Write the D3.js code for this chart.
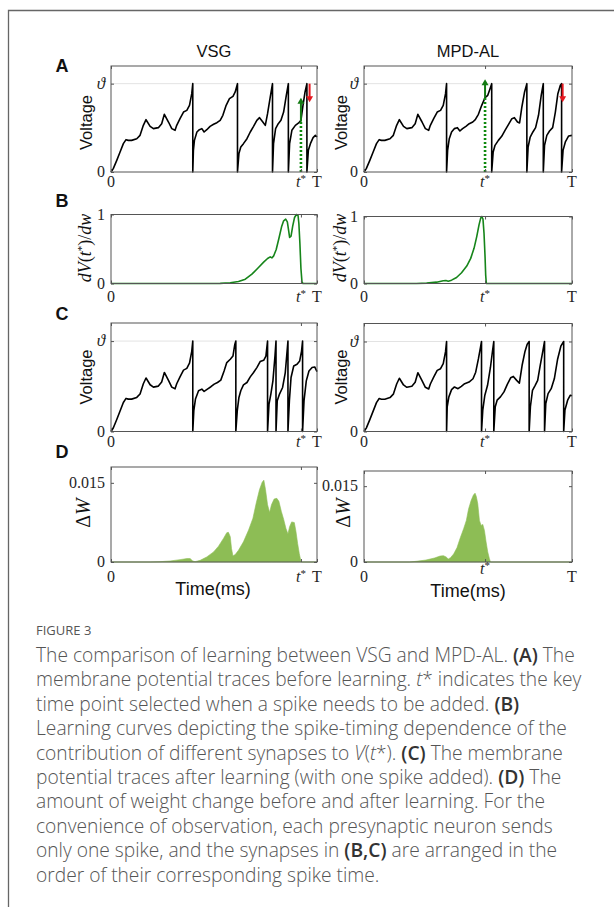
<!DOCTYPE html>
<html><head><meta charset="utf-8">
<script src="https://cdn.jsdelivr.net/npm/d3@7"></script>
<style>body{margin:0;background:#fff}svg{display:block}</style>
</head><body>
<svg id="fig" width="614" height="907"></svg>
<script>
// ---------------- DATA ----------------
const columnTitles = ["VSG", "MPD-AL"];
const panelLetters = ["A", "B", "C", "D"];
const tStar = [0.922, 0.582];              // key time point t* (fraction of T)
const xTickValues = [0, "tstar", 1];
const xTickLabels = ["0", "t*", "T"];
const voltageTickValues = [0, 1];
const voltageTickLabels = ["0", "\u03D1"];
const gradTickValues = [0, 1];
const gradTickLabels = ["0", "1"];
const dwTickValues = [0, 0.015];
const dwTickLabels = ["0", "0.015"];

// shared first segment of membrane potential (identical input before first spike)
const firstSegment = [[0,0],[.011,.038],[.028,.132],[.044,.226],[.060,.321],[.073,.366],[.084,.358],[.100,.358],[.125,.377],[.141,.415],[.157,.528],[.170,.592],[.190,.517],[.206,.491],[.230,.502],[.246,.547],[.259,.653],[.279,.566],[.295,.491],[.311,.472],[.319,.528],[.335,.604],[.352,.679],[.368,.698],[.381,.755],[.392,.887],[.397,1],[.397,0]];

// A: before learning
const vsgBefore = firstSegment.concat([[.400,.245],[.405,.358],[.417,.453],[.429,.479],[.441,.491],[.452,.453],[.465,.479],[.481,.517],[.498,.540],[.514,.558],[.530,.585],[.543,.642],[.559,.755],[.575,.830],[.592,.857],[.603,.906],[.614,1],[.614,0],
 [.621,.208],[.630,.283],[.643,.321],[.660,.377],[.676,.453],[.692,.517],[.708,.585],[.721,.615],[.737,.566],[.749,.528],[.760,.660],[.773,.849],[.784,1],[.784,0],
 [.789,.321],[.799,.491],[.812,.547],[.825,.585],[.838,.679],[.851,.868],[.861,1],[.861,0],
 [.867,.321],[.878,.472],[.895,.528],[.911,.555],[.922,.585],[.932,.755],[.942,.906],[.951,1],[.951,0],
 [.958,.245],[.968,.321],[.981,.389],[.992,.415],[1,.396]]);
const mpdBefore = firstSegment.concat([[.402,.245],[.410,.377],[.421,.453],[.434,.491],[.449,.502],[.461,.464],[.474,.491],[.490,.517],[.506,.547],[.523,.566],[.535,.592],[.550,.653],[.566,.755],[.582,.842],[.595,.868],[.606,.943],[.614,1],[.614,0],
 [.621,.226],[.630,.302],[.646,.358],[.662,.404],[.678,.472],[.695,.540],[.711,.604],[.723,.615],[.738,.566],[.748,.555],[.759,.736],[.772,.906],[.783,1],[.783,0],
 [.789,.283],[.799,.396],[.812,.453],[.825,.502],[.839,.642],[.852,.868],[.862,1],[.862,0],
 [.868,.302],[.879,.415],[.892,.464],[.907,.502],[.920,.679],[.932,.887],[.944,.981],[.950,1],[.950,0],
 [.957,.245],[.968,.340],[.984,.408],[1,.415]]);

// A: arrows  [t, vFrom, vTo]
const addArrow = [[.922, .57, .84], [.582, .842, 1.05]];
const removeArrow = [[.964, 1.0, .79], [.955, 1.0, .79]];

// B: dV(t*)/dw
const vsgGrad = [[0,0],[.481,0],[.530,.002],[.579,.010],[.619,.029],[.652,.063],[.684,.135],[.716,.232],[.741,.309],[.760,.362],[.773,.386],[.781,.372],[.789,.396],[.802,.493],[.815,.652],[.828,.821],[.838,.908],[.848,.932],[.856,.894],[.862,.773],[.867,.667],[.874,.686],[.882,.831],[.891,.957],[.900,1],[.908,.986],[.912,.870],[.917,.580],[.922,.217],[.927,.024],[.932,0],[1,0]];
const mpdGrad = [[0,0],[.252,0],[.301,.005],[.349,.020],[.381,.040],[.394,.045],[.405,.035],[.421,.050],[.445,.090],[.469,.160],[.494,.260],[.513,.375],[.529,.525],[.542,.700],[.553,.875],[.561,.975],[.566,1],[.572,.960],[.577,.750],[.582,.400],[.585,.125],[.588,0],[1,0]];

// C: after learning
const vsgAfter = firstSegment.concat([[.402,.231],[.410,.359],[.425,.451],[.441,.469],[.452,.443],[.468,.469],[.485,.495],[.501,.524],[.517,.542],[.533,.568],[.549,.670],[.562,.762],[.579,.799],[.592,.835],[.601,.963],[.606,1],[.606,0],
 [.613,.231],[.621,.377],[.630,.451],[.643,.516],[.660,.542],[.676,.604],[.692,.652],[.708,.707],[.724,.773],[.741,.788],[.752,.835],[.760,1],[.760,0],
 [.767,.304],[.776,.414],[.786,.560],[.796,.835],[.801,1],[.801,0],
 [.807,.341],[.818,.414],[.833,.487],[.846,.652],[.859,1],[.859,0],
 [.866,.341],[.874,.597],[.887,.725],[.903,.744],[.916,.780],[.925,.890],[.930,1],[.930,0],
 [.937,.341],[.948,.560],[.961,.670],[.976,.707],[.989,.714],[1,.663]]);
const mpdAfter = firstSegment.concat([[.400,.275],[.408,.385],[.421,.465],[.435,.495],[.452,.476],[.468,.502],[.484,.531],[.505,.549],[.524,.586],[.537,.659],[.550,.806],[.560,.934],[.565,1],[.565,0],
 [.571,.238],[.581,.403],[.594,.513],[.608,.714],[.618,.897],[.624,1],[.624,0],
 [.631,.275],[.640,.348],[.656,.385],[.673,.440],[.689,.524],[.705,.597],[.718,.612],[.734,.568],[.747,.538],[.760,.733],[.774,.890],[.785,.971],[.794,1],[.794,0],
 [.800,.275],[.810,.458],[.823,.513],[.835,.568],[.847,.733],[.860,.897],[.868,1],[.868,0],
 [.874,.311],[.885,.421],[.900,.476],[.915,.586],[.931,.806],[.947,.952],[.960,1],[.960,0],
 [.966,.238],[.979,.348],[.992,.403],[1,.396]]);

// D: weight change (x 0.001)
const vsgDW = [[0,0],[.190,0],[.238,.064],[.287,.19],[.335,.45],[.368,.64],[.384,.64],[.397,.19],[.408,.06],[.433,.32],[.465,.96],[.498,1.91],[.522,3.0],[.546,4.47],[.562,5.55],[.570,5.62],[.579,4.79],[.585,2.55],[.592,1.15],[.603,1.40],[.619,2.23],[.643,3.83],[.668,6.06],[.689,8.30],[.705,11.17],[.721,13.72],[.734,15.13],[.742,15.51],[.750,13.72],[.760,10.85],[.770,9.38],[.779,10.85],[.792,11.94],[.805,12.06],[.815,11.49],[.827,9.57],[.838,8.11],[.849,6.38],[.859,5.30],[.867,6.70],[.877,7.60],[.890,7.47],[.898,5.74],[.906,3.51],[.914,1.60],[.921,.32],[.924,0],[1,0]];
const mpdDW = [[0,0],[.218,0],[.250,.13],[.298,.39],[.339,.79],[.366,1.18],[.382,1.25],[.395,.99],[.405,.59],[.416,.86],[.431,1.58],[.447,2.83],[.463,4.80],[.479,6.58],[.492,8.22],[.503,10.53],[.515,12.17],[.526,13.23],[.534,13.62],[.540,12.96],[.547,11.51],[.555,8.22],[.563,7.24],[.571,7.44],[.579,6.25],[.587,3.95],[.595,1.97],[.603,.66],[.608,0],[1,0]];

// caption
const figureLabel = "FIGURE 3";
const captionLines = [
 [["The comparison of learning between VSG and MPD-AL. ","n"],["(A)","b"],[" The","n"]],
 [["membrane potential traces before learning. ","n"],["t","i"],["*","n"],[" indicates the key","n"]],
 [["time point selected when a spike needs to be added. ","n"],["(B)","b"]],
 [["Learning curves depicting the spike-timing dependence of the","n"]],
 [["contribution of different synapses to ","n"],["V","i"],["(","n"],["t","i"],["*). ","n"],["(C)","b"],[" The membrane","n"]],
 [["potential traces after learning (with one spike added). ","n"],["(D)","b"],[" The","n"]],
 [["amount of weight change before and after learning. For the","n"]],
 [["convenience of observation, each presynaptic neuron sends","n"]],
 [["only one spike, and the synapses in ","n"],["(B,C)","b"],[" are arranged in the","n"]],
 [["order of their corresponding spike time.","n"]]
];

// ---------------- LAYOUT ----------------
const svg = d3.select("#fig");
const cols = [{x0:111, x1:317}, {x0:364, x1:572}];
const rows = [
 {key:"A", top:[66,66], bottom:172, ymax:1.2, yt:voltageTickValues, yl:voltageTickLabels, xBase:187, yLab:"Voltage", yLabY:122.5, thresh:true, letterY:71.5, data:[vsgBefore, mpdBefore], kind:"v"},
 {key:"B", top:[214.5,216.5], bottom:283.5, ymax:1, yt:gradTickValues, yl:gradTickLabels, xBase:302, yLab:"grad", yLabY:248, thresh:false, letterY:206.5, data:[vsgGrad, mpdGrad], kind:"g"},
 {key:"C", top:[323,323.5], bottom:431.5, ymax:1.2, yt:voltageTickValues, yl:voltageTickLabels, xBase:446.5, yLab:"Voltage", yLabY:377, thresh:true, letterY:320, data:[vsgAfter, mpdAfter], kind:"v"},
 {key:"D", top:[467,471], bottom:562, ymax:0.018, yt:dwTickValues, yl:dwTickLabels, xBase:581.5, yLab:"dw", yLabY:513, thresh:false, letterY:458, data:[vsgDW, mpdDW], kind:"a"}
];
const yLabX = [[92,347],[91,345.5],[92,347],[90,350]];
const serif = "'Liberation Serif','DejaVu Serif',serif";
const sans = "'Liberation Sans',Arial,sans-serif";
const axisColor = "#555";

// frame
svg.append("path").attr("d","M8.5,907 L8.5,10.5 L614,10.5").attr("fill","none").attr("stroke","#666").attr("stroke-width",1.3);

// titles
columnTitles.forEach((t,i)=>{
  svg.append("text").attr("x",(cols[i].x0+cols[i].x1)/2).attr("y",57.3).attr("text-anchor","middle")
    .attr("font-family",sans).attr("font-size",16.5).attr("fill","#111").text(t);
});

function tickLabel(g, x, y, label, anchor, dy) {
  const t = g.append("text").attr("x",x).attr("y",y+(dy||0)).attr("text-anchor",anchor)
     .attr("font-family",serif).attr("font-size",16).attr("fill","#262626");
  if (label === "t*") {
    t.append("tspan").attr("font-style","italic").text("t");
    t.append("tspan").attr("font-size",11).attr("dy",-5).text("*");
  } else if (label === "\u03D1") {
    t.attr("font-style","italic").attr("font-size",17).text(label);
  } else t.text(label);
  return t;
}

rows.forEach((r,ri)=>{
  svg.append("text").attr("x",55.5).attr("y",r.letterY).attr("font-family",sans).attr("font-weight","bold")
     .attr("font-size",18).attr("fill","#111").text(panelLetters[ri]);
  cols.forEach((c,ci)=>{
    const g = svg.append("g");
    const top = r.top[ci];
    const x = d3.scaleLinear().domain([0,1]).range([c.x0,c.x1]);
    const y = d3.scaleLinear().domain([0,r.ymax]).range([r.bottom, top]);
    const xt = xTickValues.map(v => v === "tstar" ? tStar[ci] : v);

    if (r.thresh) g.append("line").attr("x1",c.x0).attr("x2",c.x1).attr("y1",y(1)).attr("y2",y(1))
        .attr("stroke","#e3e3e3").attr("stroke-width",1);

    const pts = r.data[ci];
    if (r.kind === "a") {
      const area = d3.area().x(d=>x(d[0])).y0(y(0)).y1(d=>y(d[1]/1000));
      g.append("path").attr("d",area(pts)).attr("fill","#8dbd55").attr("stroke","#8dbd55").attr("stroke-width",0.6);
    } else {
      const line = d3.line().x(d=>x(d[0])).y(d=>y(d[1]));
      g.append("path").attr("d",line(pts)).attr("fill","none")
        .attr("stroke", r.kind==="g" ? "#16851a" : "#000").attr("stroke-width",1.6).attr("stroke-linejoin","round");
    }

    if (r.key === "A") {
      const a = addArrow[ci];
      g.append("line").attr("x1",x(a[0])).attr("x2",x(a[0])).attr("y1",y(0)).attr("y2",y(a[1]))
        .attr("stroke","#0f8a0f").attr("stroke-width",2.6).attr("stroke-dasharray","2,2");
      g.append("line").attr("x1",x(a[0])).attr("x2",x(a[0])).attr("y1",y(a[1])).attr("y2",y(a[2])+5)
        .attr("stroke","#137a13").attr("stroke-width",2);
      g.append("path").attr("d",`M${x(a[0])-3.5},${y(a[2])+6} L${x(a[0])},${y(a[2])} L${x(a[0])+3.5},${y(a[2])+6}Z`).attr("fill","#137a13");
      const b = removeArrow[ci];
      g.append("line").attr("x1",x(b[0])).attr("x2",x(b[0])).attr("y1",y(b[1])).attr("y2",y(b[2])-5)
        .attr("stroke","#e5171f").attr("stroke-width",2);
      g.append("path").attr("d",`M${x(b[0])-3.5},${y(b[2])-6} L${x(b[0])},${y(b[2])} L${x(b[0])+3.5},${y(b[2])-6}Z`).attr("fill","#e5171f");
    }

    g.append("rect").attr("x",c.x0).attr("y",top).attr("width",c.x1-c.x0).attr("height",r.bottom-top)
      .attr("fill","none").attr("stroke",axisColor).attr("stroke-width",1);

    const axB = d3.axisBottom(x).tickValues(xt).tickSize(-3).tickFormat("");
    const axT = d3.axisTop(x).tickValues(xt).tickSize(-3).tickFormat("");
    const axL = d3.axisLeft(y).tickValues(r.yt).tickSize(-3).tickFormat("");
    const axR = d3.axisRight(y).tickValues(r.yt).tickSize(-3).tickFormat("");
    [[axB,`translate(0,${r.bottom})`],[axT,`translate(0,${top})`],[axL,`translate(${c.x0},0)`],[axR,`translate(${c.x1},0)`]].forEach(([ax,tr])=>{
      const ag = g.append("g").attr("transform",tr).call(ax);
      ag.select(".domain").remove();
      ag.selectAll("line").attr("stroke",axisColor);
    });

    xt.forEach((v,i)=>{
      const dy = (r.key==="D" && ci===1 && i===1) ? -8 : 0;
      tickLabel(g, x(v), r.xBase, xTickLabels[i], "middle", dy);
    });
    r.yt.forEach((v,i)=>{
      tickLabel(g, c.x0-6, y(v)+5, r.yl[i], "end", 0);
    });

    const lx = yLabX[ri][ci];
    const yl = g.append("text").attr("transform",`translate(${lx},${r.yLabY}) rotate(-90)`).attr("text-anchor","middle").attr("fill","#111");
    if (r.yLab === "Voltage") {
      yl.attr("font-family",sans).attr("font-size",16.5).text("Voltage");
    } else if (r.yLab === "grad") {
      yl.attr("font-family",serif).attr("font-size",18);
      yl.append("tspan").attr("font-style","italic").text("dV");
      yl.append("tspan").text("(");
      yl.append("tspan").attr("font-style","italic").text("t");
      yl.append("tspan").attr("font-size",11).attr("dy",-6).text("*");
      yl.append("tspan").attr("dy",6).text(")/");
      yl.append("tspan").attr("font-style","italic").text("dw");
    } else {
      yl.attr("font-family",serif).attr("font-size",20);
      yl.append("tspan").text("\u0394");
      yl.append("tspan").attr("font-style","italic").text("W");
    }

    if (r.key === "D") {
      svg.append("text").attr("x",[213,468][ci]).attr("y",[594.5,596.5][ci]).attr("text-anchor","middle")
        .attr("font-family",sans).attr("font-size",18).attr("fill","#111").text("Time(ms)");
    }
  });
});

// caption
const capFont = "'Open Sans','Noto Sans',sans-serif";
svg.append("text").attr("x",36).attr("y",635).attr("font-family",capFont).attr("font-size",13)
   .attr("fill","#555").text(figureLabel);
const capG = svg.append("g");
const lineH = 24.4, firstBase = 662;
let capSize = 17;
function drawCaption(size){
  capG.selectAll("*").remove();
  captionLines.forEach((segs,li)=>{
    const t = capG.append("text").attr("x",36).attr("y",firstBase+li*lineH)
      .attr("font-family",capFont).attr("font-size",size).attr("font-weight",300).attr("fill","#555");
    segs.forEach(([s,st])=>{
      const sp = t.append("tspan").text(s);
      if (st==="b") sp.attr("font-weight",600).attr("fill","#333");
      if (st==="i") sp.attr("font-style","italic");
    });
  });
}
drawCaption(capSize);
const len = capG.select("text").node().getComputedTextLength();
capSize = capSize * 539 / len;
drawCaption(capSize);
</script>
</body></html>
